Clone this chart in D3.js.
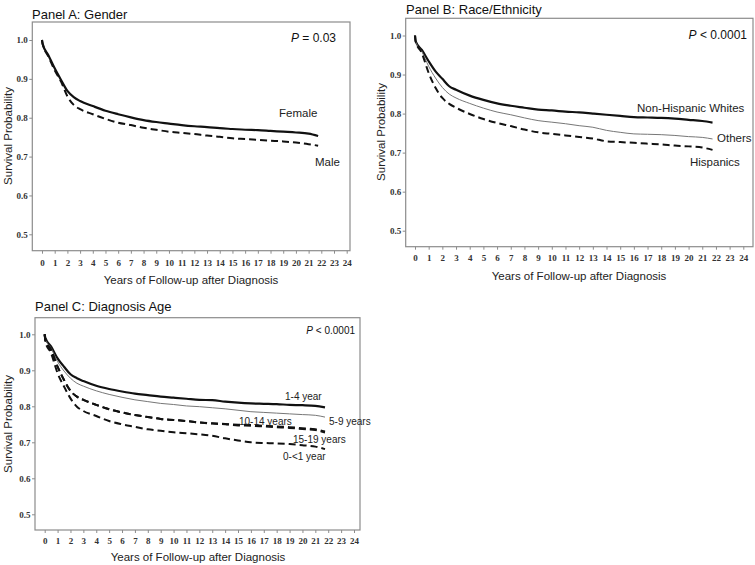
<!DOCTYPE html>
<html><head><meta charset="utf-8">
<script src="https://cdn.jsdelivr.net/npm/d3@7"></script>
<style>body{margin:0;background:#fff}svg{display:block}</style>
</head><body>
<svg id="c" width="755" height="565"></svg>
<script>
// ---- data ----
const years = [0,0.05,0.5,1,1.5,2,2.5,3,4,5,6,7,8,9,10,11,12,13,14,15,16,17,18,19,20,21,21.75];
const xTicks = d3.range(0,25);
const yTicks = [0.5,0.6,0.7,0.8,0.9,1.0];

const female = [1.0,0.99,0.961,0.927,0.897,0.869,0.853,0.843,0.830,0.818,0.809,0.801,0.794,0.789,0.785,0.781,0.778,0.776,0.773,0.771,0.769,0.768,0.766,0.764,0.762,0.759,0.753];
const male   = [1.0,0.99,0.958,0.922,0.893,0.855,0.833,0.822,0.809,0.797,0.787,0.781,0.774,0.769,0.764,0.761,0.758,0.754,0.751,0.747,0.745,0.743,0.741,0.739,0.736,0.732,0.728];

const nhw       = [1.0,0.985,0.963,0.934,0.908,0.889,0.870,0.861,0.846,0.835,0.826,0.820,0.815,0.810,0.808,0.805,0.803,0.800,0.797,0.794,0.791,0.790,0.789,0.787,0.784,0.781,0.777];
const others    = [1.0,0.985,0.959,0.921,0.891,0.867,0.850,0.840,0.826,0.814,0.804,0.797,0.789,0.782,0.778,0.774,0.769,0.765,0.757,0.752,0.748,0.747,0.746,0.744,0.741,0.739,0.735];
const hispanics = [1.0,0.985,0.955,0.904,0.866,0.840,0.825,0.815,0.799,0.786,0.776,0.768,0.759,0.752,0.748,0.744,0.740,0.736,0.729,0.727,0.725,0.723,0.721,0.718,0.716,0.713,0.707];

const age1_4   = [1.0,0.99,0.966,0.933,0.910,0.889,0.878,0.870,0.857,0.848,0.841,0.835,0.831,0.827,0.824,0.821,0.818,0.817,0.813,0.810,0.808,0.807,0.806,0.804,0.803,0.801,0.797];
const age5_9   = [1.0,0.988,0.961,0.924,0.898,0.878,0.864,0.856,0.843,0.833,0.825,0.818,0.813,0.808,0.805,0.801,0.799,0.796,0.793,0.789,0.785,0.783,0.781,0.779,0.777,0.775,0.770];
const age10_14 = [1.0,0.985,0.956,0.910,0.873,0.843,0.827,0.818,0.804,0.792,0.783,0.776,0.770,0.765,0.762,0.759,0.755,0.753,0.751,0.749,0.748,0.746,0.744,0.742,0.739,0.736,0.730];
const age15_19 = [1.0,0.985,0.956,0.910,0.873,0.843,0.827,0.818,0.804,0.792,0.783,0.776,0.770,0.765,0.762,0.759,0.755,0.752,0.750,0.747,0.746,0.744,0.742,0.740,0.737,0.734,0.727];
const age0_1   = [1.0,0.98,0.947,0.892,0.855,0.822,0.799,0.787,0.773,0.759,0.750,0.743,0.736,0.732,0.728,0.725,0.722,0.718,0.711,0.705,0.700,0.698,0.697,0.695,0.692,0.688,0.681];

// ---- styles ----
const STY = {
  thick:{stroke:"#111",w:2.2,dash:null},
  thin:{stroke:"#777",w:1,dash:null},
  dash:{stroke:"#111",w:2,dash:"7,4"}
};

const panels = [
  {title:"Panel A: Gender", tx:32, ty:19,
   frame:{l:32.3,t:22,r:350,b:250.7}, x0:42, x24:346.7, y10:40, y05:234.3,
   xt:{x:191,y:284}, yt:{x:12,y:136}, tickY:266,
   p:{x:336,y:42,text:"= 0.03",size:12},
   series:[{v:female,s:"thick"},{v:male,s:"dash"}],
   labels:[{t:"Female",x:279,y:117,a:"start"},{t:"Male",x:315,y:166,a:"start"}], lsize:11.5},
  {title:"Panel B: Race/Ethnicity", tx:406, ty:14,
   frame:{l:405.7,t:18.3,r:753,b:246.7}, x0:415, x24:743.3, y10:35.5, y05:230.7,
   xt:{x:579,y:280}, yt:{x:385,y:132}, tickY:261,
   p:{x:747,y:39,text:"< 0.0001",size:12},
   series:[{v:nhw,s:"thick"},{v:others,s:"thin"},{v:hispanics,s:"dash"}],
   labels:[{t:"Non-Hispanic Whites",x:637,y:112,a:"start"},{t:"Others",x:717,y:142,a:"start"},{t:"Hispanics",x:690,y:166,a:"start"}], lsize:11.5},
  {title:"Panel C: Diagnosis Age", tx:35, ty:311,
   frame:{l:35,t:317.7,r:360,b:530}, x0:44.7, x24:354, y10:334.3, y05:514.3,
   xt:{x:198,y:561}, yt:{x:12,y:424}, tickY:544,
   p:{x:355,y:334,text:"< 0.0001",size:10},
   series:[{v:age1_4,s:"thick"},{v:age5_9,s:"thin"},{v:age10_14,s:"dash"},{v:age15_19,s:"dash"},{v:age0_1,s:"dash"}],
   labels:[{t:"1-4 year",x:285,y:400,a:"start"},{t:"5-9 years",x:329,y:424.5,a:"start"},{t:"10-14 years",x:239,y:425,a:"start"},{t:"15-19 years",x:293,y:443,a:"start"},{t:"0-<1 year",x:283,y:460,a:"start"}], lsize:10}
];

const svg = d3.select("#c");
const SANS = "'Liberation Sans', Arial, sans-serif";
const SERIF = "'Liberation Serif', 'Times New Roman', serif";

panels.forEach(P => {
  const g = svg.append("g");
  const x = d3.scaleLinear().domain([0,24]).range([P.x0,P.x24]);
  const y = d3.scaleLinear().domain([0.5,1.0]).range([P.y05,P.y10]);
  const F = P.frame;

  g.append("text").attr("x",P.tx).attr("y",P.ty).attr("font-family",SANS)
    .attr("font-size",13).attr("fill","#111").text(P.title);

  // frame
  g.append("rect").attr("x",F.l).attr("y",F.t).attr("width",F.r-F.l).attr("height",F.b-F.t)
    .attr("fill","none").attr("stroke","#8c8c8c").attr("stroke-width",1.2);

  // y axis
  const ya = g.append("g").attr("transform",`translate(${F.l},0)`)
    .call(d3.axisLeft(y).tickValues(yTicks).tickFormat(d3.format(".1f")).tickSize(3).tickPadding(1.5));
  ya.select(".domain").remove();
  ya.selectAll("line").attr("stroke","#8c8c8c");
  ya.selectAll("text").attr("font-family",SERIF).attr("font-size",9).attr("font-weight","bold").attr("fill","#333");

  // x axis
  const xa = g.append("g").attr("transform",`translate(0,${F.b})`)
    .call(d3.axisBottom(x).tickValues(xTicks).tickFormat(d3.format("d")).tickSize(3).tickPadding(P.tickY-F.b-9));
  xa.select(".domain").remove();
  xa.selectAll("line").attr("stroke","#8c8c8c");
  xa.selectAll("text").attr("font-family",SERIF).attr("font-size",9).attr("font-weight","bold").attr("fill","#333");

  // axis titles
  g.append("text").attr("x",P.xt.x).attr("y",P.xt.y).attr("text-anchor","middle")
    .attr("font-family",SANS).attr("font-size",11.5).attr("fill","#222").text("Years of Follow-up after Diagnosis");
  g.append("text").attr("transform",`translate(${P.yt.x},${P.yt.y}) rotate(-90)`).attr("text-anchor","middle")
    .attr("font-family",SANS).attr("font-size",11.5).attr("fill","#222").text("Survival Probability");

  // P value
  const pt = g.append("text").attr("x",P.p.x).attr("y",P.p.y).attr("text-anchor","end")
    .attr("font-family",SANS).attr("font-size",P.p.size).attr("fill","#111");
  pt.append("tspan").attr("font-style","italic").text("P");
  pt.append("tspan").text(" " + P.p.text);

  // curves
  const line = d3.line().x((d,i)=>x(years[i])).y(d=>y(d)).curve(d3.curveMonotoneX);
  P.series.forEach(S => {
    const st = STY[S.s];
    g.append("path").datum(S.v).attr("d",line).attr("fill","none")
      .attr("stroke",st.stroke).attr("stroke-width",st.w)
      .attr("stroke-dasharray",st.dash).attr("stroke-linejoin","round");
  });

  P.labels.forEach(L => {
    g.append("text").attr("x",L.x).attr("y",L.y).attr("text-anchor",L.a)
      .attr("font-family",SANS).attr("font-size",P.lsize).attr("fill","#222").text(L.t);
  });
});
</script>
</body></html>
